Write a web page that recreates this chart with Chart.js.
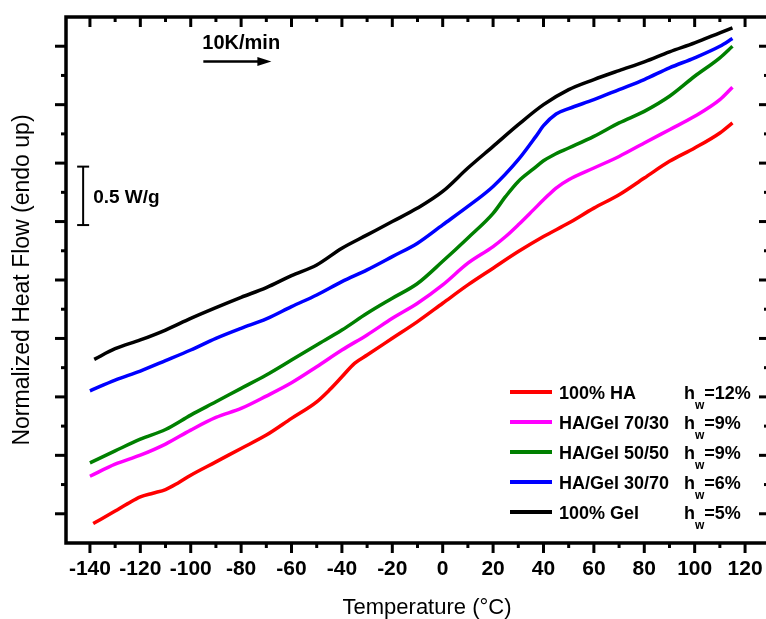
<!DOCTYPE html>
<html>
<head>
<meta charset="utf-8">
<title>DSC heat flow</title>
<script src="https://cdn.jsdelivr.net/npm/chart.js@4.4.0/dist/chart.umd.min.js"></script>
<style>
    html, body { margin: 0; padding: 0; background: #fff; overflow: hidden; }
    canvas { display: block; }
</style>
</head>
<body>
<canvas id="dscChart" width="780" height="619"></canvas>
<script>
// temperature in °C, heat flow in W/g (curves offset vertically)
const tempHA = [-138.7, -130, -125, -120, -115, -110, -105, -100, -90, -80, -70, -60, -50, -45, -40, -35, -30, -20, -10, 0, 10, 20, 30, 40, 50, 60, 70, 80, 90, 100, 110, 115];
const flowHA = [-0.084, 0.024, 0.087, 0.144, 0.176, 0.207, 0.264, 0.330, 0.444, 0.559, 0.673, 0.816, 0.958, 1.058, 1.172, 1.287, 1.358, 1.501, 1.644, 1.801, 1.958, 2.101, 2.243, 2.372, 2.487, 2.615, 2.729, 2.872, 3.015, 3.129, 3.258, 3.344];

const temp7030 = [-140, -130, -120, -110, -100, -90, -80, -70, -60, -50, -40, -30, -20, -10, 0, 10, 20, 25, 30, 36, 40, 45, 50, 60, 70, 80, 90, 100, 110, 115];
const flow7030 = [0.321, 0.424, 0.501, 0.596, 0.716, 0.824, 0.901, 1.007, 1.121, 1.258, 1.401, 1.530, 1.672, 1.801, 1.958, 2.144, 2.286, 2.372, 2.472, 2.600, 2.686, 2.787, 2.858, 2.958, 3.057, 3.172, 3.286, 3.400, 3.543, 3.649];

const temp5050 = [-140, -130, -120, -110, -100, -90, -80, -70, -60, -50, -40, -30, -20, -10, 0, 10, 20, 25, 30, 36, 40, 44, 50, 60, 70, 80, 90, 100, 110, 115];
const flow5050 = [0.435, 0.538, 0.638, 0.721, 0.844, 0.958, 1.073, 1.187, 1.315, 1.444, 1.572, 1.715, 1.844, 1.970, 2.160, 2.360, 2.570, 2.715, 2.843, 2.950, 3.020, 3.070, 3.129, 3.229, 3.344, 3.443, 3.572, 3.743, 3.901, 4.000];

const temp3070 = [-140, -130, -120, -110, -100, -90, -80, -70, -60, -50, -40, -30, -20, -10, 0, 10, 20, 30, 37, 40, 45, 50, 60, 70, 80, 90, 100, 110, 115];
const flow3070 = [1.052, 1.144, 1.221, 1.310, 1.401, 1.501, 1.587, 1.667, 1.772, 1.872, 1.986, 2.087, 2.200, 2.315, 2.472, 2.629, 2.800, 3.029, 3.229, 3.320, 3.420, 3.466, 3.543, 3.629, 3.715, 3.815, 3.901, 4.000, 4.066];

const tempGel = [-138.3, -130, -120, -110, -100, -90, -80, -70, -60, -50, -40, -30, -20, -10, 0, 10, 20, 30, 40, 50, 60, 70, 80, 90, 100, 110, 115];
const flowGel = [1.321, 1.412, 1.487, 1.572, 1.672, 1.764, 1.852, 1.935, 2.038, 2.129, 2.272, 2.386, 2.500, 2.615, 2.758, 2.958, 3.143, 3.329, 3.500, 3.629, 3.715, 3.792, 3.866, 3.952, 4.029, 4.115, 4.158];

const sampleNames = ["100% HA", "HA/Gel 70/30", "HA/Gel 50/50", "HA/Gel 30/70", "100% Gel"];
const waterContent = ["12%", "9%", "9%", "6%", "5%"];

const xMajor = [-140, -120, -100, -80, -60, -40, -20, 0, 20, 40, 60, 80, 100, 120];
const xMinor = [-130, -110, -90, -70, -50, -30, -10, 10, 30, 50, 70, 90, 110];
const yMajor = [0, 0.5, 1, 1.5, 2, 2.5, 3, 3.5, 4];
const yMinor = [0.25, 0.75, 1.25, 1.75, 2.25, 2.75, 3.25, 3.75];

// 0.5 W/g scale bar and heating-rate arrow, in data units
const scaleBar = { x: -142.7, from: 2.47, to: 2.97, label: "0.5 W/g" };
const rateArrow = { from: -95, to: -68, y: 3.87, label: "10K/min" };

const colors = ["#ff0000", "#ff00ff", "#008000", "#0000ff", "#000000"];
const FONT = '"Liberation Sans", Arial, sans-serif';

const series = [
    [tempHA, flowHA],
    [temp7030, flow7030],
    [temp5050, flow5050],
    [temp3070, flow3070],
    [tempGel, flowGel]
];

const datasets = series.map((s, i) => ({
    label: sampleNames[i],
    data: s[0].map((t, k) => ({ x: t, y: s[1][k] })),
    borderColor: colors[i],
    borderWidth: 3.5,
    pointRadius: 0,
    fill: false,
    cubicInterpolationMode: "monotone"
}));

function line(ctx, x1, y1, x2, y2) {
    ctx.beginPath();
    ctx.moveTo(x1, y1);
    ctx.lineTo(x2, y2);
    ctx.stroke();
}

const decorations = {
    id: "decorations",
    afterDatasetsDraw(chart) {
        const ctx = chart.ctx;
        const a = chart.chartArea;
        const x = chart.scales.x;
        const y = chart.scales.y;

        ctx.save();
        ctx.strokeStyle = "#000";
        ctx.fillStyle = "#000";

        // ticks: bottom/left outward, top/right inward
        ctx.lineWidth = 3;
        xMajor.forEach(v => {
            const px = x.getPixelForValue(v);
            line(ctx, px, a.bottom, px, a.bottom + 10);
            line(ctx, px, a.top, px, a.top + 10);
        });
        xMinor.forEach(v => {
            const px = x.getPixelForValue(v);
            line(ctx, px, a.bottom, px, a.bottom + 5);
            line(ctx, px, a.top, px, a.top + 5);
        });
        yMajor.forEach(v => {
            const py = y.getPixelForValue(v);
            line(ctx, a.left - 11, py, a.left, py);
            line(ctx, a.right - 10, py, a.right, py);
        });
        yMinor.forEach(v => {
            const py = y.getPixelForValue(v);
            line(ctx, a.left - 5, py, a.left, py);
            line(ctx, a.right - 5, py, a.right, py);
        });

        ctx.lineWidth = 3.5;
        ctx.strokeRect(a.left, a.top, a.right - a.left, a.bottom - a.top);

        // tick labels
        ctx.font = "bold 21px " + FONT;
        ctx.textAlign = "center";
        ctx.textBaseline = "alphabetic";
        xMajor.forEach(v => {
            ctx.fillText(String(v), x.getPixelForValue(v), a.bottom + 32);
        });

        // axis titles
        ctx.font = "22px " + FONT;
        ctx.fillText("Temperature (°C)", 427, 614);
        ctx.save();
        ctx.translate(29, 280);
        ctx.rotate(-Math.PI / 2);
        ctx.font = "23px " + FONT;
        ctx.fillText("Normalized Heat Flow (endo up)", 0, 0);
        ctx.restore();

        // scale bar
        const bx = x.getPixelForValue(scaleBar.x);
        const bTop = y.getPixelForValue(scaleBar.to);
        const bBot = y.getPixelForValue(scaleBar.from);
        ctx.lineWidth = 2;
        line(ctx, bx, bTop, bx, bBot);
        line(ctx, bx - 6, bTop, bx + 6, bTop);
        line(ctx, bx - 6, bBot, bx + 6, bBot);
        ctx.font = "bold 19px " + FONT;
        ctx.textAlign = "left";
        ctx.fillText(scaleBar.label, bx + 10, (bTop + bBot) / 2 + 7);

        // heating rate arrow
        const ax1 = x.getPixelForValue(rateArrow.from);
        const ax2 = x.getPixelForValue(rateArrow.to);
        const ay = y.getPixelForValue(rateArrow.y);
        ctx.lineWidth = 2.5;
        line(ctx, ax1, ay, ax2 - 8, ay);
        ctx.beginPath();
        ctx.moveTo(ax2, ay);
        ctx.lineTo(ax2 - 14, ay - 4.5);
        ctx.lineTo(ax2 - 14, ay + 4.5);
        ctx.closePath();
        ctx.fill();
        ctx.font = "bold 20px " + FONT;
        ctx.fillText(rateArrow.label, ax1 - 1, ay - 12);

        // legend
        sampleNames.forEach((name, i) => {
            const ly = 392 + i * 30;
            ctx.strokeStyle = colors[i];
            ctx.lineWidth = 4;
            line(ctx, 510, ly, 552, ly);
            ctx.fillStyle = "#000";
            ctx.font = "bold 18px " + FONT;
            ctx.fillText(name, 559, ly + 7);
            let hx = 684;
            ctx.fillText("h", hx, ly + 7);
            hx += ctx.measureText("h").width;
            ctx.font = "bold 12px " + FONT;
            ctx.fillText("w", hx, ly + 17);
            hx += ctx.measureText("w").width;
            ctx.font = "bold 18px " + FONT;
            ctx.fillText("=" + waterContent[i], hx, ly + 7);
        });

        ctx.restore();
    }
};

new Chart(document.getElementById("dscChart").getContext("2d"), {
    type: "line",
    data: { datasets: datasets },
    options: {
        responsive: false,
        animation: false,
        devicePixelRatio: 1,
        layout: {
            padding: { left: 66, top: 17, right: 11, bottom: 76 }
        },
        plugins: {
            legend: { display: false },
            tooltip: { enabled: false }
        },
        scales: {
            x: { type: "linear", min: -149.5, max: 129.5, display: false },
            y: { type: "linear", min: -0.25, max: 4.25, display: false }
        }
    },
    plugins: [decorations]
});
</script>
</body>
</html>
